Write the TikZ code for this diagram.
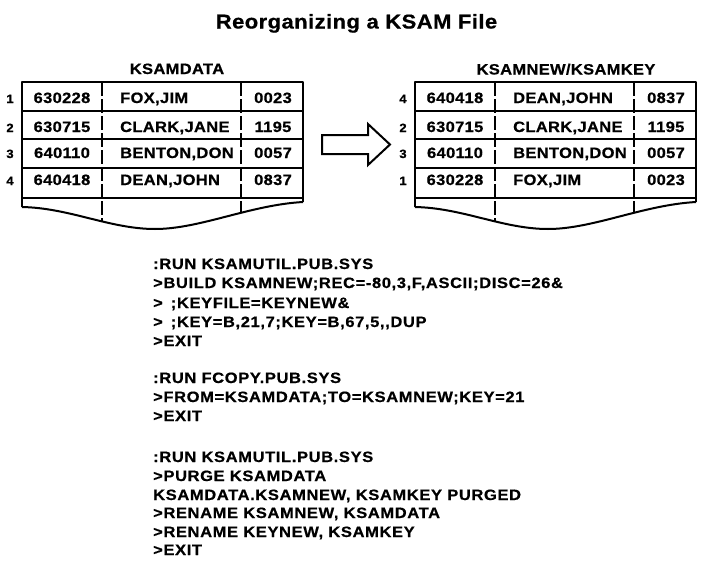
\documentclass[tikz,border=0pt]{standalone}
\usepackage{fontspec}
\setmainfont{Liberation Sans}
\newfontfamily\figfont{Liberation Sans Bold}[FakeStretch=1.1,LetterSpace=2.2,FakeBold=0.6]
\newfontfamily\listfont{Liberation Sans Bold}[FakeStretch=1.1,LetterSpace=4.2,FakeBold=0.6]
\begin{document}
\begin{tikzpicture}[x=1pt,y=-1pt,
  titletext/.style={font=\figfont\fontsize{20}{20}\selectfont, anchor=base, inner sep=0pt},
  hdr/.style={font=\figfont\fontsize{15}{15}\selectfont, anchor=base, inner sep=0pt},
  cell/.style={font=\figfont\fontsize{15}{15}\selectfont, anchor=base, inner sep=0pt},
  cellw/.style={cell, anchor=base west},
  num/.style={font=\figfont\fontsize{12}{12}\selectfont, anchor=base, inner sep=0pt},
  code/.style={font=\listfont\fontsize{15}{15}\selectfont, anchor=base west, inner sep=0pt},
  frame/.style={line width=2pt, line join=round},
  rowline/.style={line width=1.8pt},
  coldiv/.style={line width=1.5pt, dash pattern=on 14pt off 3pt},
  ksamtable/.pic={
    \draw[frame] (0,125) -- (0,0) -- (281,0) -- (281,120);
    \foreach \yy in {29,57,86,116} \draw[rowline] (0,\yy) -- (281,\yy);
    \draw[frame] (0,125) .. controls (48,126) and (88,147) .. (133,147)
                 .. controls (178,147) and (228,123) .. (281,120);
    \draw[coldiv] (80,0) -- (80,140);
    \draw[coldiv] (219,0) -- (219,130);
  }
]
\useasboundingbox (0,0) rectangle (716,573);
\fill[white] (0,0) rectangle (716,573);

\node[titletext] (title) at (356.5,28.5) {Reorganizing a KSAM File};

% left table
\node[hdr] (hleft) at (177,74) {KSAMDATA};
\pic at (22,82) {ksamtable};
\node[num]   (l1n) at (10,103) {1};
\node[cell]  (l1a) at (62,103) {630228};
\node[cellw] (l1b) at (120,103) {FOX,JIM};
\node[cell]  (l1c) at (273,103) {0023};
\node[num]   (l2n) at (10,132) {2};
\node[cell]  (l2a) at (62,132) {630715};
\node[cellw] (l2b) at (120,132) {CLARK,JANE};
\node[cell]  (l2c) at (273,132) {1195};
\node[num]   (l3n) at (10,158) {3};
\node[cell]  (l3a) at (62,158) {640110};
\node[cellw] (l3b) at (120,158) {BENTON,DON};
\node[cell]  (l3c) at (273,158) {0057};
\node[num]   (l4n) at (10,185) {4};
\node[cell]  (l4a) at (62,185) {640418};
\node[cellw] (l4b) at (120,185) {DEAN,JOHN};
\node[cell]  (l4c) at (273,185) {0837};

% arrow
\draw[frame, line join=miter] (322,135) -- (368,135) -- (368,124) -- (390,144.5)
      -- (368,165) -- (368,154) -- (322,154) -- cycle;

% right table
\node[hdr] (hright) at (566,74.5) {KSAMNEW/KSAMKEY};
\pic at (415,82) {ksamtable};
\node[num]   (r1n) at (403,103) {4};
\node[cell]  (r1a) at (455,103) {640418};
\node[cellw] (r1b) at (513,103) {DEAN,JOHN};
\node[cell]  (r1c) at (666,103) {0837};
\node[num]   (r2n) at (403,132) {2};
\node[cell]  (r2a) at (455,132) {630715};
\node[cellw] (r2b) at (513,132) {CLARK,JANE};
\node[cell]  (r2c) at (666,132) {1195};
\node[num]   (r3n) at (403,158) {3};
\node[cell]  (r3a) at (455,158) {640110};
\node[cellw] (r3b) at (513,158) {BENTON,DON};
\node[cell]  (r3c) at (666,158) {0057};
\node[num]   (r4n) at (403,185) {1};
\node[cell]  (r4a) at (455,185) {630228};
\node[cellw] (r4b) at (513,185) {FOX,JIM};
\node[cell]  (r4c) at (666,185) {0023};

% command listing
\node[code] (c1)  at (153,269) {:RUN KSAMUTIL.PUB.SYS};
\node[code] (c2)  at (153,288) {>BUILD KSAMNEW;REC=-80,3,F,ASCII;DISC=26\&};
\node[code] (c3)  at (153,308) {>\hspace{8pt};KEYFILE=KEYNEW\&};
\node[code] (c4)  at (153,327) {>\hspace{8pt};KEY=B,21,7;KEY=B,67,5,,DUP};
\node[code] (c5)  at (153,346) {>EXIT};
\node[code] (c6)  at (153,383) {:RUN FCOPY.PUB.SYS};
\node[code] (c7)  at (153,402) {>FROM=KSAMDATA;TO=KSAMNEW;KEY=21};
\node[code] (c8)  at (153,421) {>EXIT};
\node[code] (c9)  at (153,462) {:RUN KSAMUTIL.PUB.SYS};
\node[code] (c10) at (153,481) {>PURGE KSAMDATA};
\node[code] (c11) at (153,500) {KSAMDATA.KSAMNEW, KSAMKEY PURGED};
\node[code] (c12) at (153,518) {>RENAME KSAMNEW, KSAMDATA};
\node[code] (c13) at (153,537) {>RENAME KEYNEW, KSAMKEY};
\node[code] (c14) at (153,555) {>EXIT};
\end{tikzpicture}
\end{document}
